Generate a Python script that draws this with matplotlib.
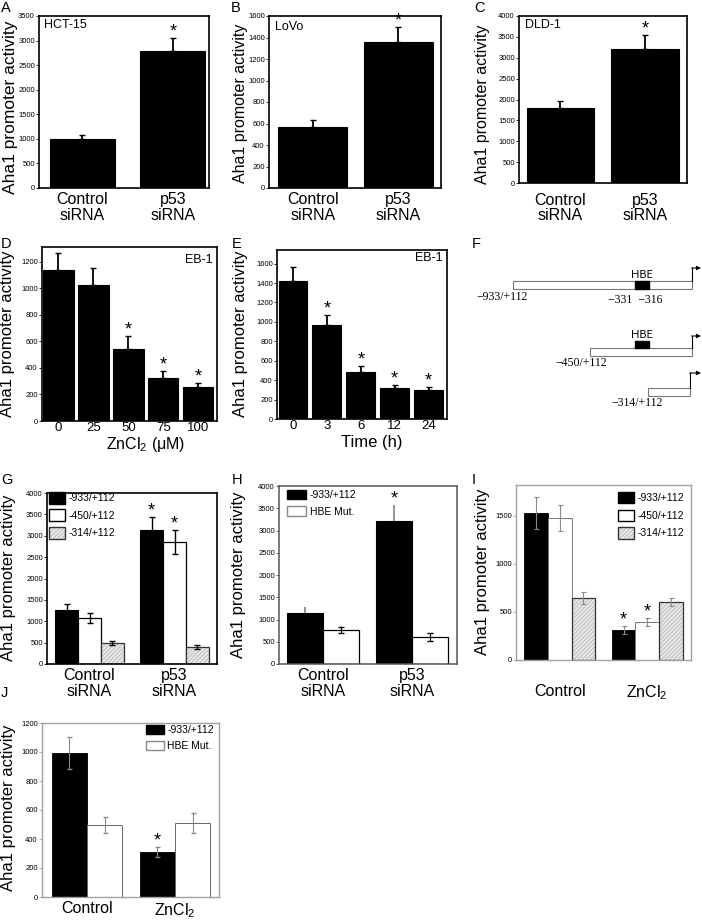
import matplotlib
matplotlib.use('Agg')
import matplotlib.pyplot as plt
from matplotlib.patches import Patch, Rectangle
import numpy as np

plt.rcParams['font.family'] = ['Liberation Sans', 'DejaVu Sans']
plt.rcParams['mathtext.default'] = 'regular'
plt.rcParams['hatch.linewidth'] = 0.5

# ---------------- data ----------------
sirna_labels = ['Control\nsiRNA', 'p53\nsiRNA']
a_vals = [1000, 2780]; a_err = [88, 265]; a_sig = [False, True]
b_vals = [570, 1360]; b_err = [60, 135]; b_sig = [False, True]
c_vals = [1790, 3220]; c_err = [185, 335]; c_sig = [False, True]

d_labels = ['0', '25', '50', '75', '100']
d_vals = [1140, 1026, 543, 325, 257]; d_err = [128, 129, 99, 52, 30]
d_sig = [False, False, True, True, True]

e_labels = ['0', '3', '6', '12', '24']
e_vals = [1423, 969, 485, 320, 299]; e_err = [144, 103, 61, 30, 31]
e_sig = [False, True, True, True, True]

construct_labels = ['-933/+112', '-450/+112', '-314/+112']
g_black = [1262, 3130]; g_black_err = [138, 305]; g_black_sig = [False, True]
g_white = [1075, 2850]; g_white_err = [115, 280]; g_white_sig = [False, True]
g_gray = [490, 397]; g_gray_err = [55, 47]

h_labels = ['-933/+112', 'HBE Mut.']
h_black = [1146, 3213]; h_black_err = [134, 360]; h_black_sig = [False, True]
h_white = [764, 607]; h_white_err = [67, 90]

zn_labels = ['Control', 'ZnCl$_2$']
i_black = [1531, 312]; i_black_err = [167, 42]; i_black_sig = [False, True]
i_white = [1479, 396]; i_white_err = [136, 42]; i_white_sig = [False, True]
i_gray = [646, 604]; i_gray_err = [62, 42]

j_black = [993, 310]; j_black_err = [110, 35]; j_black_sig = [False, True]
j_white = [497, 510]; j_white_err = [55, 69]

# ---------------- layout helpers ----------------
W, H = 702, 923
fig = plt.figure(figsize=(W / 100, H / 100), dpi=100)

GRAY_FACE = '#e6e6e6'
GRAY_HATCH = '#b4b4b4'


def add_ax(l, t, r, b, frame='black', lw=1.2):
    ax = fig.add_axes([l / W, 1 - b / H, (r - l) / W, (b - t) / H])
    for s in ax.spines.values():
        s.set_color(frame)
        s.set_linewidth(lw)
    ax.tick_params(axis='y', direction='out', length=2, width=0.6, labelsize=5.5, pad=1, color=frame)
    ax.tick_params(axis='x', length=0)
    return ax


def ftext(px, py, s, **kw):
    return fig.text(px / W, 1 - py / H, s, **kw)


def star(ax, x, y, dy=1):
    ax.annotate('*', (x, y), xytext=(0, dy), textcoords='offset points',
                ha='center', va='baseline', fontsize=13)


def single(ax, vals, errs, sig, width, labels, fs, pad):
    x = np.arange(len(vals))
    ax.bar(x, vals, width, color='black', edgecolor='black', linewidth=0.8)
    ax.errorbar(x, vals, yerr=[np.zeros(len(vals)), errs], fmt='none',
                ecolor='black', elinewidth=1.3, capsize=2, capthick=1.0)
    for xi, v, e, s in zip(x, vals, errs, sig):
        if s:
            star(ax, xi, v + e)
    ax.set_xticks(x, labels, fontsize=fs, linespacing=1.05)
    ax.tick_params(axis='x', pad=pad)


def gray_bars(ax, x, vals, width):
    ax.bar(x, vals, width, color=GRAY_FACE, edgecolor=GRAY_HATCH, linewidth=0, hatch='////////')
    ax.bar(x, vals, width, fill=False, edgecolor='#333333', linewidth=0.9)


def ylabel(px, py, s, fs):
    ftext(px, py, s, rotation=90, ha='center', va='center', fontsize=fs)


def panel(px, py, s):
    ftext(px, py, s, ha='left', va='top', fontsize=10.5)


# ---------------- A ----------------
ax = add_ax(39, 16, 209, 188)
single(ax, a_vals, a_err, a_sig, 0.72, sirna_labels, 11.5, 3)
ax.set_xlim(-0.48, 1.4); ax.set_ylim(0, 3500)
ax.set_yticks(np.arange(0, 3501, 500))
ftext(44, 25, 'HCT-15', ha='left', va='center', fontsize=9)
ylabel(11, 107, 'Aha1 promoter activity', 12.5)
panel(1, 1, 'A')

# ---------------- B ----------------
ax = add_ax(269, 16, 441, 188)
single(ax, b_vals, b_err, b_sig, 0.81, sirna_labels, 11.5, 3)
ax.set_xlim(-0.51, 1.5); ax.set_ylim(0, 1600)
ax.set_yticks(np.arange(0, 1601, 200))
ftext(275, 27, 'LoVo', ha='left', va='center', fontsize=9)
ylabel(241, 103, 'Aha1 promoter activity', 11.5)
panel(231, 1, 'B')

# ---------------- C ----------------
ax = add_ax(519, 16, 687, 183)
single(ax, c_vals, c_err, c_sig, 0.8, sirna_labels, 11.5, 7)
ax.set_xlim(-0.49, 1.5); ax.set_ylim(0, 4000)
ax.set_yticks(np.arange(0, 4001, 500))
ftext(525, 25, 'DLD-1', ha='left', va='center', fontsize=9)
ylabel(482, 104, 'Aha1 promoter activity', 11.5)
panel(474, 1, 'C')

# ---------------- D ----------------
ax = add_ax(42, 247, 217, 421)
single(ax, d_vals, d_err, d_sig, 0.86, d_labels, 9.5, 1)
ax.set_xlim(-0.47, 4.53); ax.set_ylim(0, 1310)
ax.set_yticks(np.arange(0, 1201, 200))
ftext(146, 449, 'ZnCl$_2$ (μM)', ha='center', va='baseline', fontsize=11.5)
ftext(213, 260, 'EB-1', ha='right', va='center', fontsize=9)
ylabel(8, 334, 'Aha1 promoter activity', 12)
panel(1, 237, 'D')

# ---------------- E ----------------
ax = add_ax(277, 250, 447, 419)
single(ax, e_vals, e_err, e_sig, 0.85, e_labels, 9.5, 1)
ax.set_xlim(-0.47, 4.54); ax.set_ylim(0, 1740)
ax.set_yticks(np.arange(0, 1601, 200))
ftext(372, 447, 'Time (h)', ha='center', va='baseline', fontsize=12)
ftext(443, 258, 'EB-1', ha='right', va='center', fontsize=9)
ylabel(240, 334, 'Aha1 promoter activity', 12)
panel(232, 237, 'E')

# ---------------- F (schematic) ----------------
axf = fig.add_axes([470 / W, 1 - 410 / H, 232 / W, 180 / H])
axf.set_xlim(470, 702); axf.set_ylim(410, 230); axf.axis('off')
# construct geometry (schematic pixel layout)
f_left = [513, 590, 648]
f_right = [692, 692, 690]
f_top = [281, 348, 388]
f_arrow_top = [268, 336, 373]
f_hbe = [True, True, False]
f_label_xy = [(502, 297), (581, 363), (637, 403)]
f_labels = ['−933/+112', '−450/+112', '−314/+112']
for i in range(3):
    axf.add_patch(Rectangle((f_left[i], f_top[i]), f_right[i] - f_left[i], 8,
                            facecolor='white', edgecolor='#777777', linewidth=0.8))
    axf.plot([f_right[i], f_right[i]], [f_top[i], f_arrow_top[i]], color='black', lw=0.8)
    axf.annotate('', xy=(701, f_arrow_top[i]), xytext=(f_right[i] - 0.4, f_arrow_top[i]),
                 arrowprops=dict(arrowstyle='-|>', lw=0.8, color='black', mutation_scale=6,
                                 shrinkA=0, shrinkB=0), annotation_clip=False)
    axf.text(*f_label_xy[i], f_labels[i], ha='center', va='center', fontsize=8.5,
             family='Liberation Serif')
    if f_hbe[i]:
        yb = f_top[i] if i == 0 else f_top[i] - 7
        axf.add_patch(Rectangle((635, yb), 14, 8 if i == 0 else 7, facecolor='black', edgecolor='black'))
        axf.text(642, yb - 1.5, 'HBE', ha='center', va='bottom', fontsize=8, family='Lato')
axf.text(635, 300, '−331  −316', ha='center', va='center', fontsize=8.5, family='Liberation Serif')
panel(472, 237, 'F')

# ---------------- G ----------------
ax = add_ax(47, 493, 217, 664)
w = 0.27
x = np.arange(2)
ax.bar(x - w, g_black, w, color='black', edgecolor='black', linewidth=0.8)
ax.bar(x, g_white, w, color='white', edgecolor='black', linewidth=0.9)
gray_bars(ax, x + w, g_gray, w)
ax.errorbar(x - w, g_black, yerr=g_black_err, fmt='none', ecolor='black', elinewidth=1.0, capsize=2)
ax.errorbar(x, g_white, yerr=g_white_err, fmt='none', ecolor='black', elinewidth=1.0, capsize=2)
ax.errorbar(x + w, g_gray, yerr=g_gray_err, fmt='none', ecolor='black', elinewidth=1.0, capsize=2)
for xi, v, e, s in zip(x - w, g_black, g_black_err, g_black_sig):
    if s: star(ax, xi, v + e)
for xi, v, e, s in zip(x, g_white, g_white_err, g_white_sig):
    if s: star(ax, xi, v + e)
ax.set_xlim(-0.5, 1.5); ax.set_ylim(0, 4000)
ax.set_yticks(np.arange(0, 4001, 500))
ax.set_xticks(x, sirna_labels, fontsize=11.5, linespacing=1.05)
ax.tick_params(axis='x', pad=3)
hg = [Patch(facecolor='black', edgecolor='black'),
      Patch(facecolor='white', edgecolor='black'),
      (Patch(facecolor=GRAY_FACE, edgecolor=GRAY_HATCH, hatch='////////', linewidth=0),
       Patch(fill=False, edgecolor='#333333'))]
ax.legend(hg, construct_labels, loc='upper left', bbox_to_anchor=(49 / W, 1 - 492 / H),
          bbox_transform=fig.transFigure, frameon=False, fontsize=7.5, borderpad=0,
          borderaxespad=0, handlelength=1.55, handleheight=1.35, handletextpad=0.3,
          labelspacing=0.55)
ylabel(9, 578, 'Aha1 promoter activity', 12)
panel(1, 473, 'G')

# ---------------- H ----------------
ax = add_ax(279, 486, 457, 664, frame='#555555', lw=1.1)
w = 0.4
ax.bar(x - w / 2, h_black, w, color='black', edgecolor='black', linewidth=0.8)
ax.bar(x + w / 2, h_white, w, color='white', edgecolor='black', linewidth=0.9)
ax.errorbar(x - w / 2, h_black, yerr=[np.zeros(2), h_black_err], fmt='none', ecolor='#808080',
            elinewidth=1.2, capsize=0)
ax.errorbar(x + w / 2, h_white, yerr=h_white_err, fmt='none', ecolor='black', elinewidth=0.8, capsize=2)
for xi, v, e, s in zip(x - w / 2, h_black, h_black_err, h_black_sig):
    if s: star(ax, xi, v + e)
ax.set_xlim(-0.49, 1.5); ax.set_ylim(0, 4000)
ax.set_yticks(np.arange(0, 4001, 500))
ax.set_xticks(x, sirna_labels, fontsize=11.5, linespacing=1.05)
ax.tick_params(axis='x', pad=3)
hh = [Patch(facecolor='black', edgecolor='black'), Patch(facecolor='white', edgecolor='#888888')]
ax.legend(hh, h_labels, loc='upper left', bbox_to_anchor=(287 / W, 1 - 490 / H),
          bbox_transform=fig.transFigure, frameon=False, fontsize=7.5, borderpad=0,
          borderaxespad=0, handlelength=1.8, handleheight=1.0, handletextpad=0.4,
          labelspacing=0.6)
ylabel(239, 575, 'Aha1 promoter activity', 12)
panel(232, 473, 'H')

# ---------------- I ----------------
ax = add_ax(516, 485, 691, 660, frame='#a0a0a0', lw=1.0)
w = 0.27
ax.bar(x - w, i_black, w, color='black', edgecolor='black', linewidth=0.6)
ax.bar(x, i_white, w, color='white', edgecolor='#777777', linewidth=0.7)
gray_bars(ax, x + w, i_gray, w)
for xs, vals, errs in [(x - w, i_black, i_black_err), (x, i_white, i_white_err), (x + w, i_gray, i_gray_err)]:
    ax.errorbar(xs, vals, yerr=errs, fmt='none', ecolor='#8a8a8a', elinewidth=0.8, capsize=1.8, capthick=0.8)
for xi, v, e, s in zip(x - w, i_black, i_black_err, i_black_sig):
    if s: star(ax, xi, v + e)
for xi, v, e, s in zip(x, i_white, i_white_err, i_white_sig):
    if s: star(ax, xi, v + e)
ax.set_xlim(-0.5, 1.5); ax.set_ylim(0, 1820)
ax.set_yticks([0, 500, 1000, 1500])
ax.set_xticks(x, zn_labels, fontsize=11.5)
ax.tick_params(axis='x', pad=17)
ax.legend(hg, construct_labels, loc='upper left', bbox_to_anchor=(618 / W, 1 - 492 / H),
          bbox_transform=fig.transFigure, frameon=False, fontsize=7.5, borderpad=0,
          borderaxespad=0, handlelength=1.55, handleheight=1.3, handletextpad=0.35,
          labelspacing=0.6)
ylabel(483, 572, 'Aha1 promoter activity', 12)
panel(472, 473, 'I')

# ---------------- J ----------------
ax = add_ax(42, 723, 219, 897, frame='#a0a0a0', lw=1.0)
w = 0.4
ax.bar(x - w / 2, j_black, w, color='black', edgecolor='black', linewidth=0.6)
ax.bar(x + w / 2, j_white, w, color='white', edgecolor='#666666', linewidth=0.7)
ax.errorbar(x - w / 2, j_black, yerr=j_black_err, fmt='none', ecolor='#8a8a8a', elinewidth=0.8, capsize=1.8)
ax.errorbar(x + w / 2, j_white, yerr=j_white_err, fmt='none', ecolor='#8a8a8a', elinewidth=0.8, capsize=1.8)
for xi, v, e, s in zip(x - w / 2, j_black, j_black_err, j_black_sig):
    if s: star(ax, xi, v + e)
ax.set_xlim(-0.51, 1.5); ax.set_ylim(0, 1200)
ax.set_yticks(np.arange(0, 1201, 200))
ax.set_xticks(x, zn_labels, fontsize=11.5)
ax.tick_params(axis='x', pad=3)
ax.legend(hh, h_labels, loc='upper left', bbox_to_anchor=(146 / W, 1 - 725 / H),
          bbox_transform=fig.transFigure, frameon=False, fontsize=7.5, borderpad=0,
          borderaxespad=0, handlelength=1.75, handleheight=1.0, handletextpad=0.3,
          labelspacing=0.55)
ylabel(9, 808, 'Aha1 promoter activity', 12)
panel(1, 686, 'J')

fig.savefig('out.png', dpi=100)
